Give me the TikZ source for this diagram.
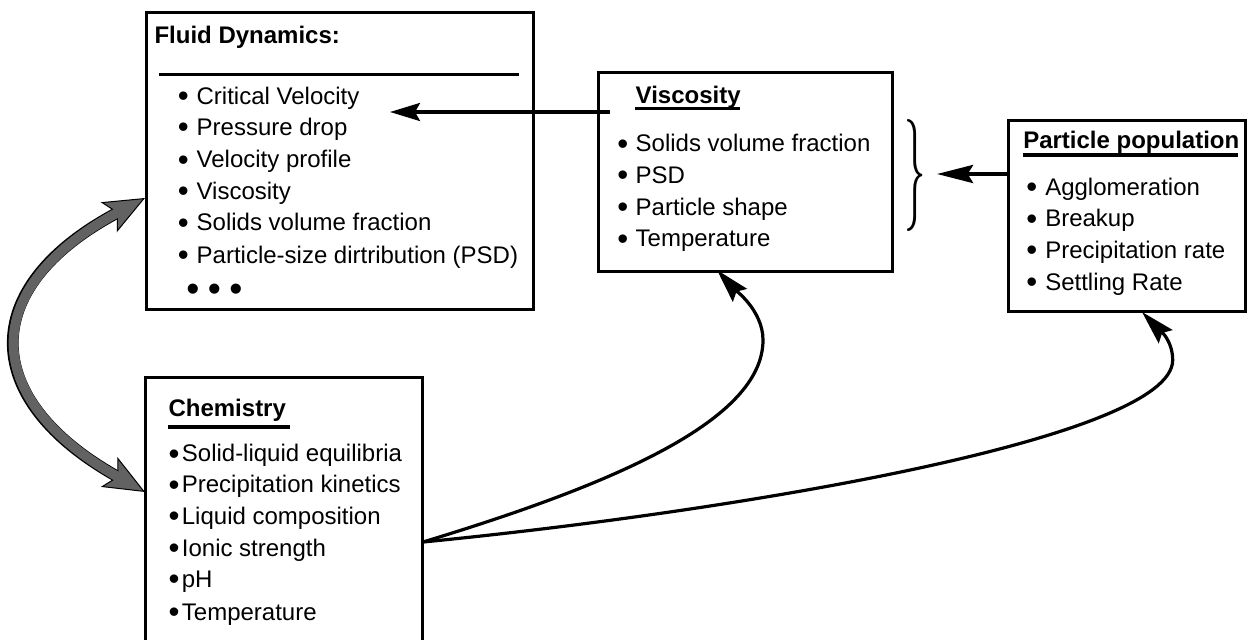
\documentclass[tikz,border=0pt]{standalone}
\usepackage{fontspec}
\setmainfont{Liberation Sans}
\usepackage{graphicx}
\usetikzlibrary{arrows.meta}
\definecolor{arrowgray}{RGB}{98,98,98}
\newcommand{\itm}[2]{\makebox[#1][l]{\raisebox{-2pt}{\scalebox{1.3}{•}}}#2}
\tikzset{grayhead/.tip={Stealth[length=30.75pt,width=25.5pt,inset=7pt,fill=arrowgray,line width=0.75pt]}}
\begin{document}
\begin{tikzpicture}[x=0.75pt,y=-0.75pt,
  box/.style={draw, line width=2.25pt, inner sep=0pt, outer sep=0pt, anchor=north west},
  txt/.style={anchor=base west, inner sep=0pt, font=\fontsize{18}{22}\selectfont},
  ttl/.style={anchor=base west, inner sep=0pt, font=\fontsize{18}{22}\selectfont\bfseries},
  rulel/.style={line width=2.6pt},
  conn/.style={line width=2.4pt, -{Stealth[length=25.5pt,width=14.25pt,inset=3.75pt]}},
  straight/.style={line width=2.4pt, -{Stealth[length=22.5pt,width=13.5pt,inset=3.75pt]}},
]
\fill[white] (0,0) rectangle (1248,639);
\useasboundingbox (0,0) rectangle (1248,639);

% boxes
\node[box, minimum width=290.6pt, minimum height=223.3pt] (fluid) at (146,12) {};
\node[box, minimum width=220.65pt, minimum height=149.25pt] (visc) at (598.5,72.2) {};
\node[box, minimum width=178.1pt, minimum height=143.25pt] (pp) at (1008.5,120) {};
\node[box, minimum width=208.1pt, minimum height=227.25pt] (chem) at (145.5,377) {};

% Fluid dynamics
\node[ttl] (fdt) at (154.3,43.3) {Fluid Dynamics:};
\draw[rulel] (159.3,74.7) -- (518.6,74.7);
\node[txt] (f1) at (177.6,104) {\itm{14.1pt}{Critical Velocity}};
\node[txt] (f2) at (177.6,135) {\itm{14.1pt}{Pressure drop}};
\node[txt] (f3) at (177.6,167.5) {\itm{14.1pt}{Velocity profile}};
\node[txt] (f4) at (177.6,199.3) {\itm{14.1pt}{Viscosity}};
\node[txt] (f5) at (177.6,230.5) {\itm{14.1pt}{Solids volume fraction}};
\node[txt] (f6) at (177.6,263) {\itm{14.1pt}{Particle-size dirtribution (PSD)}};
\node[inner sep=0pt, font=\fontsize{28}{28}\selectfont] (fdots) at (214.5,293) {•\hspace{6.3pt}•\hspace{6.3pt}•};

% Viscosity
\node[ttl] (vt) at (635.4,103.3) {Viscosity};
\draw[rulel] (635.4,108.3) -- (740,108.3);
\node[txt] (v1) at (617,151.7) {\itm{13.8pt}{Solids volume fraction}};
\node[txt] (v2) at (617,183.3) {\itm{13.8pt}{PSD}};
\node[txt] (v3) at (617,215) {\itm{13.8pt}{Particle shape}};
\node[txt] (v4) at (617,246.7) {\itm{13.8pt}{Temperature}};

% Particle population
\node[ttl] (ppt) at (1023,148.3) {Particle population};
\draw[rulel] (1023,155) -- (1238,155);
\node[txt] (p1) at (1026,195) {\itm{14.25pt}{Agglomeration}};
\node[txt] (p2) at (1026,226.7) {\itm{14.25pt}{Breakup}};
\node[txt] (p3) at (1026,258.3) {\itm{14.25pt}{Precipitation rate}};
\node[txt] (p4) at (1026,290) {\itm{14.25pt}{Settling Rate}};

% Chemistry
\node[ttl] (ct) at (168.3,416.7) {Chemistry};
\draw[rulel] (168.3,427) -- (290,427);
\node[txt] (c1) at (168.3,461.7) {\itm{10pt}{Solid-liquid equilibria}};
\node[txt] (c2) at (168.3,492.7) {\itm{10pt}{Precipitation kinetics}};
\node[txt] (c3) at (168.3,524) {\itm{10pt}{Liquid composition}};
\node[txt] (c4) at (168.3,556) {\itm{10pt}{Ionic strength}};
\node[txt] (c5) at (168.3,587.3) {\itm{10pt}{pH}};
\node[txt] (c6) at (168.3,620) {\itm{10pt}{Temperature}};

% brace
\node[inner sep=0pt] (brace) at (915,175) {\resizebox{16pt}{63pt}{$\}$}};

% connectors
\coordinate (vs) at (610,112);
\coordinate (vtip) at (390,112);
\draw[straight] (vs) -- (vtip);

\coordinate (ppin) at (1008.5,174);
\coordinate (btip) at (937,174);
\draw[line width=3pt, -{Stealth[length=27pt,width=13.5pt,inset=4pt]}] (ppin) -- (btip);

\coordinate (cs) at (423,542);
\coordinate (vbot) at (717,270);
\coordinate (pbot) at (1142,312);
\draw[conn] (cs) .. controls (614.4,484) and (763,420) .. (763,340)
  .. controls (763,310) and (733.75,288.5) .. (vbot);
\draw[conn] (cs) .. controls (721.5,512.9) and (1172.7,440) .. (1172.7,360)
  .. controls (1172.7,338) and (1155.8,326.4) .. (pbot);

% gray double arrow
\coordinate (gt) at (145,198);
\coordinate (gb) at (145,492);
\draw[line width=8.8pt, black, {grayhead}-{grayhead}] (gb) .. controls (-20,400) and (-24.3,288) .. (gt);
\draw[line width=7.3pt, arrowgray, shorten <=21pt, shorten >=21pt] (gb) .. controls (-20,400) and (-24.3,288) .. (gt);
\end{tikzpicture}
\end{document}
